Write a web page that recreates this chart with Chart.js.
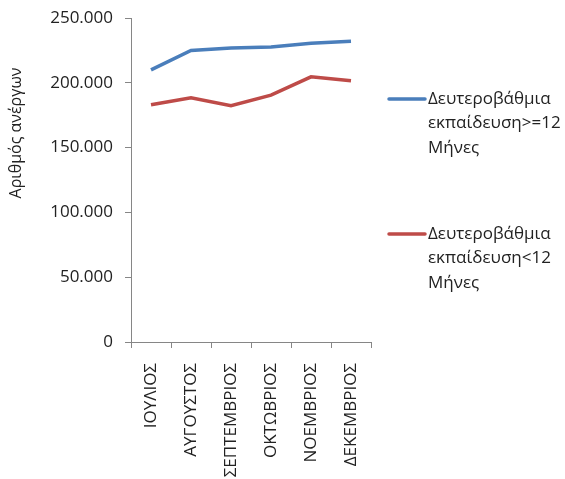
<!DOCTYPE html>
<html><head><meta charset="utf-8">
<script src="https://cdn.jsdelivr.net/npm/chart.js@4"></script>
<style>html,body{margin:0;padding:0;background:#fff;overflow:hidden}#wrap{position:relative;width:565px;height:479px}</style>
</head><body><div id="wrap"><canvas id="c"></canvas></div>
<script>
const categories = ['ΙΟΥΛΙΟΣ','ΑΥΓΟΥΣΤΟΣ','ΣΕΠΤΕΜΒΡΙΟΣ','ΟΚΤΩΒΡΙΟΣ','ΝΟΕΜΒΡΙΟΣ','ΔΕΚΕΜΒΡΙΟΣ'];
const seriesLong = [210000,225000,226800,227700,230500,232000];
const seriesShort = [183000,188500,182300,190500,204600,201500];
const seriesLongLabel = ['Δευτεροβάθμια','εκπαίδευση>=12','Μήνες'];
const seriesShortLabel = ['Δευτεροβάθμια','εκπαίδευση<12','Μήνες'];
const yTitle = 'Αριθμός ανέργων';
const yMin = 0, yMax = 250000, yStep = 50000;

const FONT = "'Open Sans', sans-serif";
const TEXT = '#222';
function fmt(v){ return String(Math.round(v)).replace(/\B(?=(\d{3})+(?!\d))/g,'.'); }

const sidePlugin = {
  id:'sideLegend',
  afterDraw(chart){
    const ctx = chart.ctx, ca = chart.chartArea;
    ctx.save();
    ctx.font = "16px " + FONT;
    ctx.fillStyle = TEXT;
    ctx.textAlign = 'center';
    ctx.textBaseline = 'middle';
    ctx.translate(16, ca.top + 115);
    ctx.rotate(-Math.PI/2);
    ctx.fillText(yTitle, 0, 0);
    ctx.restore();

    ctx.save();
    const offs = [81,216];
    ctx.font = "17px " + FONT;
    ctx.textBaseline = 'middle';
    ctx.textAlign = 'left';
    ctx.fillStyle = TEXT;
    chart.data.datasets.forEach((ds,i)=>{
      const y0 = ca.top + offs[i];
      const x0 = ca.right + 16;
      ctx.strokeStyle = ds.borderColor; ctx.lineWidth = 3.5; ctx.lineCap='round';
      ctx.beginPath(); ctx.moveTo(x0+2,y0); ctx.lineTo(x0+38,y0); ctx.stroke();
      ds.legendLines.forEach((t,j)=>{ ctx.fillText(t, x0+41, y0 + j*24.5); });
    });
    ctx.restore();
  }
};

new Chart(document.getElementById('c'),{
  type:'line',
  data:{labels:categories,datasets:[
    {label:seriesLongLabel.join(' '),legendLines:seriesLongLabel,data:seriesLong,borderColor:'#4A7EBB',borderWidth:3.5,pointRadius:0,tension:0,fill:false},
    {label:seriesShortLabel.join(' '),legendLines:seriesShortLabel,data:seriesShort,borderColor:'#BE4B48',borderWidth:3.5,pointRadius:0,tension:0,fill:false}
  ]},
  options:{
    responsive:true,maintainAspectRatio:false,animation:false,
    layout:{padding:{top:18,right:194,left:0,bottom:0}},
    plugins:{legend:{display:false},tooltip:{enabled:false}},
    scales:{
      x:{offset:true,
        grid:{offset:true,drawOnChartArea:false,drawTicks:true,tickLength:6,color:'#868686'},
        border:{display:true,color:'#868686',width:1},
        ticks:{autoSkip:false,minRotation:90,maxRotation:90,color:TEXT,font:{family:FONT,size:17},padding:15},
        afterFit(s){ s.height = 137; }
      },
      y:{min:yMin,max:yMax,
        grid:{drawOnChartArea:false,drawTicks:true,tickLength:6,color:'#868686'},
        border:{display:true,color:'#868686',width:1},
        ticks:{stepSize:yStep,color:TEXT,font:{family:FONT,size:17},padding:12,callback:v=>fmt(v)},
        title:{display:false},
        afterFit(s){ s.width = 131; s.paddingTop = 0; s.paddingBottom = 0; }
      }
    }
  },
  plugins:[sidePlugin]
});
</script></body></html>
